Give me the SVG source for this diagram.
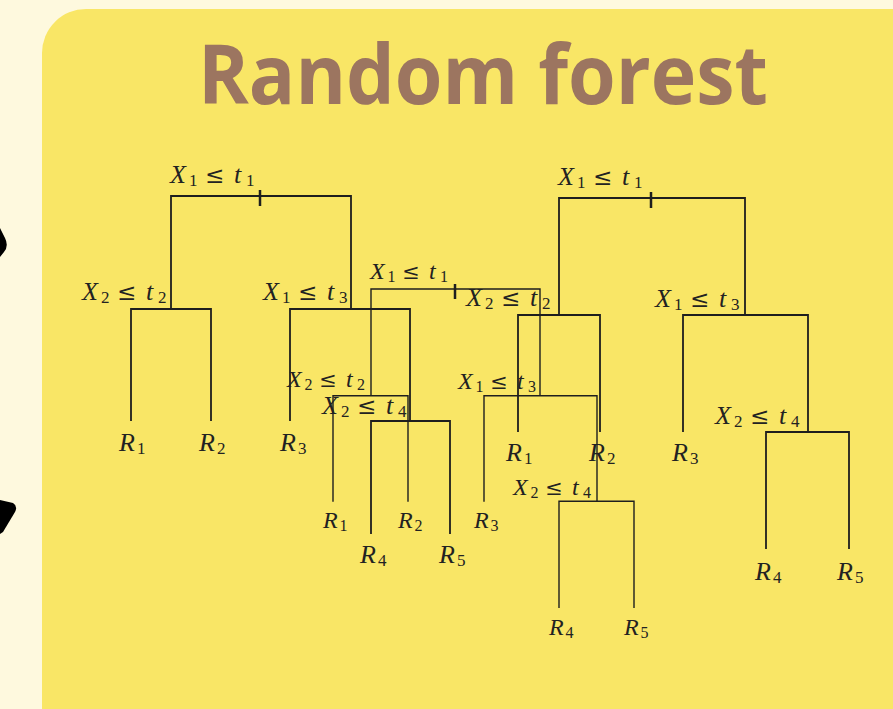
<svg xmlns="http://www.w3.org/2000/svg" width="893" height="709" viewBox="0 0 893 709">
<style>
.m{font-family:"Liberation Serif","DejaVu Serif",serif;font-style:italic;font-size:26px;fill:#222}
.s{font-family:"Liberation Serif","DejaVu Serif",serif;font-size:17px;fill:#222}
.o{font-family:"DejaVu Serif","Liberation Serif",serif;font-size:23px;fill:#222}
.t2 .m{font-size:24px}
.t2 .s{font-size:16px}
.t2 .o{font-size:21px}
.ln{fill:none;stroke:#1e1e1e;stroke-width:1.8}
.ln2{fill:none;stroke:#1e1e1e;stroke-width:1.4}
.tk{stroke:#1e1e1e;stroke-width:2.5}
</style>
<rect width="893" height="709" fill="#FEF9DE"/>
<rect x="42" y="9" width="900" height="760" rx="44" fill="#F9E666"/>
<path d="M0,228 L5,238 Q9,246 4,252 L0,257 Z" fill="#000"/>
<path d="M0,500 L13,503 Q18,506 15,512 L3,532 L0,534 Z" fill="#000"/>
<text x="198" y="104" textLength="570" lengthAdjust="spacingAndGlyphs" font-family="'Open Sans','Noto Sans',sans-serif" font-weight="700" font-size="82" fill="#9C7560">Random forest</text>

<g id="connectors">
  <path class="ln" d="M171,308.7 V196 H351 V308.7"/>
  <path class="tk" d="M260,190 V206"/>
  <path class="ln" d="M131,421 V309 H211 V421"/>
  <path class="ln" d="M290,421 V309 H410 V421"/>
  <path class="ln" d="M371,534 V421 H450 V534"/>

  <path class="ln2" d="M371,395.7 V289 H540 V395.7"/>
  <path class="tk" d="M455,284 V299"/>
  <path class="ln2" d="M333,501.7 V395.7 H408 V501.7"/>
  <path class="ln2" d="M484,501.7 V395.7 H597 V501.3"/>
  <path class="ln2" d="M559,608 V501.3 H634 V608"/>

  <path class="ln" d="M559,315 V198 H745 V315"/>
  <path class="tk" d="M651,192 V208"/>
  <path class="ln" d="M518,432 V315 H600 V432"/>
  <path class="ln" d="M683,432 V315 H808 V432"/>
  <path class="ln" d="M766,549 V432 H849 V549"/>
</g>

<g id="tree1">
  <g id="t1-root"><text><tspan class="m" x="170" y="183">X</tspan><tspan class="s" x="189" y="186">1</tspan><tspan class="o" x="205" y="183">≤</tspan><tspan class="m" x="234" y="183">t</tspan><tspan class="s" x="246" y="186">1</tspan></text></g>
  <g id="t1-n2"><text><tspan class="m" x="82" y="300">X</tspan><tspan class="s" x="101" y="303">2</tspan><tspan class="o" x="117" y="300">≤</tspan><tspan class="m" x="146" y="300">t</tspan><tspan class="s" x="158" y="303">2</tspan></text></g>
  <g id="t1-n3"><text><tspan class="m" x="263" y="300">X</tspan><tspan class="s" x="282" y="303">1</tspan><tspan class="o" x="298" y="300">≤</tspan><tspan class="m" x="327" y="300">t</tspan><tspan class="s" x="339" y="303">3</tspan></text></g>
  <g id="t1-n4"><text><tspan class="m" x="322" y="414">X</tspan><tspan class="s" x="341" y="417">2</tspan><tspan class="o" x="357" y="414">≤</tspan><tspan class="m" x="386" y="414">t</tspan><tspan class="s" x="398" y="417">4</tspan></text></g>
  <g id="t1-r1"><text><tspan class="m" x="119" y="451">R</tspan><tspan class="s" x="137" y="454">1</tspan></text></g>
  <g id="t1-r2"><text><tspan class="m" x="199" y="451">R</tspan><tspan class="s" x="217" y="454">2</tspan></text></g>
  <g id="t1-r3"><text><tspan class="m" x="280" y="451">R</tspan><tspan class="s" x="298" y="454">3</tspan></text></g>
  <g id="t1-r4"><text><tspan class="m" x="360" y="563">R</tspan><tspan class="s" x="378" y="566">4</tspan></text></g>
  <g id="t1-r5"><text><tspan class="m" x="439" y="563">R</tspan><tspan class="s" x="457" y="566">5</tspan></text></g>
</g>

<g id="tree2" class="t2">
  <g id="t2-root"><text><tspan class="m" x="370" y="279">X</tspan><tspan class="s" x="387.5" y="281.8">1</tspan><tspan class="o" x="402.2" y="279">≤</tspan><tspan class="m" x="429" y="279">t</tspan><tspan class="s" x="440" y="281.8">1</tspan></text></g>
  <g id="t2-n2"><text><tspan class="m" x="287" y="387">X</tspan><tspan class="s" x="304.5" y="389.8">2</tspan><tspan class="o" x="319.2" y="387">≤</tspan><tspan class="m" x="346" y="387">t</tspan><tspan class="s" x="357" y="389.8">2</tspan></text></g>
  <g id="t2-n3"><text><tspan class="m" x="458" y="389">X</tspan><tspan class="s" x="475.5" y="391.8">1</tspan><tspan class="o" x="490.2" y="389">≤</tspan><tspan class="m" x="517" y="389">t</tspan><tspan class="s" x="528" y="391.8">3</tspan></text></g>
  <g id="t2-n4"><text><tspan class="m" x="513" y="495">X</tspan><tspan class="s" x="530.5" y="497.8">2</tspan><tspan class="o" x="545.2" y="495">≤</tspan><tspan class="m" x="572" y="495">t</tspan><tspan class="s" x="583" y="497.8">4</tspan></text></g>
  <g id="t2-r1"><text><tspan class="m" x="323" y="528">R</tspan><tspan class="s" x="339.5" y="530.8">1</tspan></text></g>
  <g id="t2-r2"><text><tspan class="m" x="398" y="528">R</tspan><tspan class="s" x="414.5" y="530.8">2</tspan></text></g>
  <g id="t2-r3"><text><tspan class="m" x="474" y="528">R</tspan><tspan class="s" x="490.5" y="530.8">3</tspan></text></g>
  <g id="t2-r4"><text><tspan class="m" x="549" y="635">R</tspan><tspan class="s" x="565.5" y="637.8">4</tspan></text></g>
  <g id="t2-r5"><text><tspan class="m" x="624" y="635">R</tspan><tspan class="s" x="640.5" y="637.8">5</tspan></text></g>
</g>

<g id="tree3">
  <g id="t3-root"><text><tspan class="m" x="558" y="185">X</tspan><tspan class="s" x="577" y="188">1</tspan><tspan class="o" x="593" y="185">≤</tspan><tspan class="m" x="622" y="185">t</tspan><tspan class="s" x="634" y="188">1</tspan></text></g>
  <g id="t3-n2"><text><tspan class="m" x="466" y="306">X</tspan><tspan class="s" x="485" y="309">2</tspan><tspan class="o" x="501" y="306">≤</tspan><tspan class="m" x="530" y="306">t</tspan><tspan class="s" x="542" y="309">2</tspan></text></g>
  <g id="t3-n3"><text><tspan class="m" x="655" y="307">X</tspan><tspan class="s" x="674" y="310">1</tspan><tspan class="o" x="690" y="307">≤</tspan><tspan class="m" x="719" y="307">t</tspan><tspan class="s" x="731" y="310">3</tspan></text></g>
  <g id="t3-n4"><text><tspan class="m" x="715" y="424">X</tspan><tspan class="s" x="734" y="427">2</tspan><tspan class="o" x="750" y="424">≤</tspan><tspan class="m" x="779" y="424">t</tspan><tspan class="s" x="791" y="427">4</tspan></text></g>
  <g id="t3-r1"><text><tspan class="m" x="506" y="461">R</tspan><tspan class="s" x="524" y="464">1</tspan></text></g>
  <g id="t3-r2"><text><tspan class="m" x="589" y="461">R</tspan><tspan class="s" x="607" y="464">2</tspan></text></g>
  <g id="t3-r3"><text><tspan class="m" x="672" y="461">R</tspan><tspan class="s" x="690" y="464">3</tspan></text></g>
  <g id="t3-r4"><text><tspan class="m" x="755" y="580">R</tspan><tspan class="s" x="773" y="583">4</tspan></text></g>
  <g id="t3-r5"><text><tspan class="m" x="837" y="580">R</tspan><tspan class="s" x="855" y="583">5</tspan></text></g>
</g>
</svg>
